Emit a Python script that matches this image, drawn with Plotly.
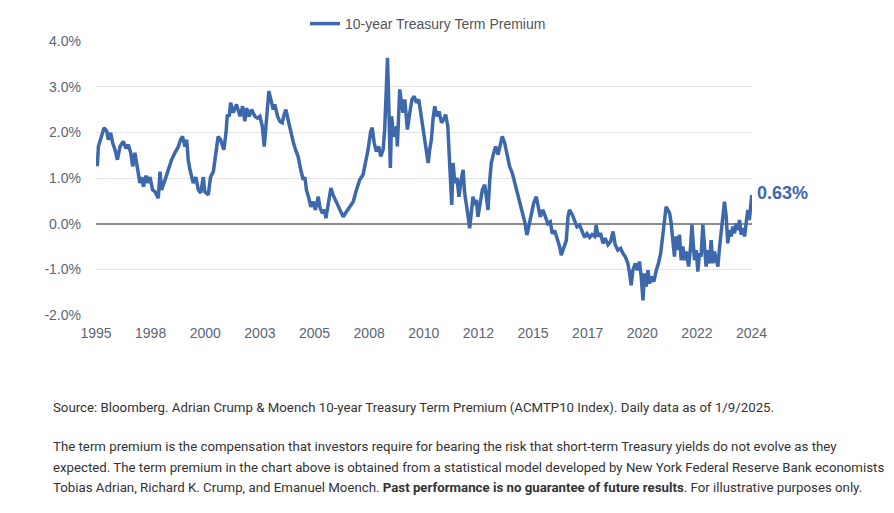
import numpy as np
import plotly.graph_objects as go

# decimal year / term premium (%)
year = [
    # 1995 - 2002
    1995.03, 1995.06, 1995.11, 1995.26, 1995.37, 1995.49, 1995.56, 1995.67, 1995.76, 1995.87,
    1995.98, 1996.10, 1996.25, 1996.37, 1996.48, 1996.59, 1996.68, 1996.78, 1996.86, 1997.01,
    1997.09, 1997.17, 1997.29, 1997.39, 1997.47, 1997.59, 1997.70, 1997.85, 1997.93, 1998.00,
    1998.16, 1998.31, 1998.46, 1998.61, 1998.77, 1998.87, 1998.96, 1999.07, 1999.15, 1999.22,
    1999.30, 1999.45, 1999.57, 1999.68, 1999.79, 1999.91, 1999.98, 2000.14, 2000.24, 2000.37,
    2000.49, 2000.59, 2000.70, 2000.79, 2000.85, 2000.95, 2001.01, 2001.10, 2001.16, 2001.28,
    2001.43, 2001.59, 2001.71, 2001.81, 2001.89, 2002.01, 2002.12, 2002.27,
    # 2002 - 2009
    2002.39, 2002.50, 2002.61, 2002.70, 2002.76, 2002.85, 2002.91, 2003.00, 2003.11, 2003.18,
    2003.31, 2003.41, 2003.52, 2003.61, 2003.69, 2003.79, 2003.92, 2004.02, 2004.13, 2004.25,
    2004.37, 2004.48, 2004.56, 2004.63, 2004.74, 2004.83, 2004.94, 2005.04, 2005.17, 2005.24,
    2005.35, 2005.47, 2005.52, 2005.62, 2005.75, 2005.85, 2006.00, 2006.16, 2006.31, 2006.46,
    2006.61, 2006.77, 2006.92, 2007.07, 2007.22, 2007.33, 2007.45, 2007.57, 2007.64, 2007.73,
    2007.83, 2007.94, 2008.03, 2008.14, 2008.21, 2008.29, 2008.34, 2008.38, 2008.43, 2008.47,
    2008.53, 2008.60, 2008.67, 2008.75, 2008.79, 2008.86, 2008.90, 2008.98, 2009.05, 2009.13,
    2009.25, 2009.36, 2009.46, 2009.56, 2009.66, 2009.77,
    # 2010 - 2017
    2010.00, 2010.09, 2010.20, 2010.27, 2010.35, 2010.42, 2010.50, 2010.61, 2010.70, 2010.81,
    2010.91, 2011.00, 2011.10, 2011.16, 2011.22, 2011.28, 2011.34, 2011.42, 2011.52, 2011.61,
    2011.71, 2011.80, 2011.87, 2011.95, 2012.02, 2012.10, 2012.18, 2012.25, 2012.33, 2012.41,
    2012.48, 2012.56, 2012.68, 2012.79, 2012.86, 2012.94, 2013.02, 2013.09, 2013.20, 2013.29,
    2013.40, 2013.50, 2013.59, 2013.70, 2013.81, 2013.93, 2014.05, 2014.16, 2014.27, 2014.39,
    2014.51, 2014.62, 2014.72, 2014.81, 2014.92, 2015.03, 2015.15, 2015.23, 2015.33, 2015.45,
    2015.58, 2015.68, 2015.79, 2015.88, 2015.99, 2016.09, 2016.22, 2016.29, 2016.40, 2016.52,
    2016.60, 2016.67, 2016.80, 2016.90, 2017.01, 2017.13, 2017.25, 2017.36, 2017.47, 2017.59,
    # 2017 - 2025
    2017.70, 2017.82, 2017.89, 2017.97, 2018.09, 2018.20, 2018.30, 2018.43, 2018.55, 2018.66,
    2018.76, 2018.88, 2019.01, 2019.11, 2019.22, 2019.34, 2019.42, 2019.49, 2019.57, 2019.68,
    2019.77, 2019.87, 2019.95, 2020.03, 2020.10, 2020.18, 2020.26, 2020.33, 2020.41, 2020.53,
    2020.64, 2020.74, 2020.84, 2020.94, 2021.02, 2021.09, 2021.17, 2021.25, 2021.32, 2021.40,
    2021.47, 2021.55, 2021.63, 2021.70, 2021.78, 2021.86, 2021.93, 2022.01, 2022.12, 2022.21,
    2022.27, 2022.33, 2022.39, 2022.47, 2022.54, 2022.62, 2022.69, 2022.77, 2022.85, 2022.92,
    2023.00, 2023.08, 2023.15, 2023.23, 2023.30, 2023.38, 2023.46, 2023.53, 2023.61, 2023.69,
    2023.76, 2023.84, 2023.91, 2023.99, 2024.07, 2024.14, 2024.22, 2024.29, 2024.37, 2024.45,
    2024.52, 2024.60, 2024.68, 2024.75, 2024.83, 2024.90, 2024.98, 2025.01,
]
premium = [
    1.40, 1.26, 1.69, 1.91, 2.10, 2.03, 1.84, 1.99, 1.77, 1.62,
    1.40, 1.69, 1.80, 1.65, 1.73, 1.55, 1.25, 1.55, 1.33, 0.89,
    1.02, 0.81, 1.05, 0.89, 1.02, 0.74, 0.70, 0.56, 1.14, 0.74,
    0.96, 1.18, 1.40, 1.55, 1.69, 1.84, 1.91, 1.69, 1.84, 1.40,
    1.18, 0.89, 1.02, 0.74, 0.67, 1.02, 0.70, 0.63, 1.02, 1.14,
    1.62, 1.91, 1.84, 1.69, 1.62, 1.99, 2.39, 2.35, 2.65, 2.43,
    2.61, 2.35, 2.57, 2.24, 2.53, 2.35, 2.50, 2.35,
    2.31, 2.35, 2.13, 1.69, 2.06, 2.57, 2.90, 2.72, 2.50, 2.61,
    2.35, 2.24, 2.21, 2.39, 2.50, 2.28, 1.99, 1.80, 1.62, 1.47,
    1.18, 0.96, 1.02, 0.74, 0.56, 0.37, 0.48, 0.30, 0.59, 0.37,
    0.23, 0.30, 0.12, 0.45, 0.78, 0.63, 0.48, 0.34, 0.15, 0.26,
    0.37, 0.48, 0.74, 0.96, 1.07, 1.33, 1.62, 2.02, 2.10, 1.77,
    1.58, 1.69, 1.47, 1.62, 2.06, 3.01, 3.63, 2.94, 1.99, 1.22,
    2.35, 1.99, 1.91, 2.13, 1.69, 2.50, 2.94, 2.65, 2.43, 2.72,
    2.06, 2.43, 2.72, 2.79, 2.65, 2.72,
    1.99, 1.77, 1.33, 1.62, 1.84, 2.28, 2.57, 2.35, 2.46, 2.21,
    2.28, 2.39, 2.13, 1.55, 0.96, 0.41, 1.33, 0.89, 1.00, 0.59,
    0.96, 1.18, 0.67, 0.45, 0.19, -0.10, 0.23, 0.59, 0.41, 0.52,
    0.15, 0.37, 0.74, 0.85, 0.59, 0.30, 0.96, 1.33, 1.55, 1.69,
    1.51, 1.69, 1.91, 1.77, 1.47, 1.25, 1.11, 0.89, 0.67, 0.45,
    0.23, 0.04, -0.25, -0.07, 0.15, 0.45, 0.59, 0.37, 0.15, 0.30,
    0.11, 0.00, 0.04, -0.22, -0.15, -0.30, -0.51, -0.69, -0.54, -0.37,
    0.15, 0.30, 0.19, 0.08, -0.07, -0.03, -0.15, -0.30, -0.22, -0.30,
    -0.24, -0.28, -0.03, -0.28, -0.21, -0.43, -0.32, -0.46, -0.39, -0.17,
    -0.46, -0.58, -0.54, -0.65, -0.72, -0.87, -1.09, -1.35, -1.02, -0.87,
    -1.02, -0.83, -1.16, -1.68, -1.09, -1.38, -1.02, -1.31, -1.16, -1.27,
    -1.02, -0.87, -0.65, -0.28, 0.08, 0.37, 0.30, 0.23, 0.01, -0.50,
    -0.72, -0.28, -0.58, -0.24, -0.80, -0.50, -0.80, -0.61, -0.94, -0.50,
    -0.02, -0.43, -0.80, -0.58, -1.05, -0.65, -0.72, -0.02, -0.50, -0.94,
    -0.58, -0.87, -0.36, -0.87, -0.61, -0.83, -0.94, -0.54, -0.14, 0.30,
    0.48, 0.16, -0.43, -0.14, -0.28, -0.06, -0.21, 0.01, -0.14, 0.08,
    -0.24, -0.10, -0.28, 0.01, 0.30, 0.08, 0.59, 0.63,
]

tick_labels = ["1995", "1998", "2000", "2003", "2005", "2008", "2010",
               "2012", "2015", "2017", "2020", "2022", "2024"]
y_ticks = [-2, -1, 0, 1, 2, 3, 4]
last_value = premium[-1]

footnotes = [
    "Source: Bloomberg. Adrian Crump & Moench 10-year Treasury Term Premium (ACMTP10 Index). Daily data as of 1/9/2025.",
    "The term premium is the compensation that investors require for bearing the risk that short-term Treasury yields do not evolve as they",
    "expected. The term premium in the chart above is obtained from a statistical model developed by New York Federal Reserve Bank economists",
    "Tobias Adrian, Richard K. Crump, and Emanuel Moench. <b>Past performance is no guarantee of future results</b>. For illustrative purposes only.",
]
footnote_y = [-0.339, -0.481, -0.556, -0.631]

blue = "#3d68ab"
grey_text = "#5b6574"

fig = go.Figure()

fig.add_trace(
    go.Scatter(
        x=year,
        y=premium,
        name="10-year Treasury Term Premium",
        mode="lines",
        line=dict(color=blue, width=3.5),
    )
)

# value label at the end of the line
fig.add_annotation(
    x=year[-1],
    y=last_value,
    text="<b>%.2f%%</b>" % last_value,
    showarrow=False,
    xanchor="left",
    yanchor="middle",
    xshift=3,
    yshift=2,
    font=dict(family="Liberation Sans, Arial", size=18, color=blue),
)

# footnote lines under the chart
for line, fy in zip(footnotes, footnote_y):
    fig.add_annotation(
        xref="paper",
        yref="paper",
        x=-0.069,
        y=fy,
        text=line,
        showarrow=False,
        xanchor="left",
        yanchor="middle",
        align="left",
        font=dict(family="Roboto", size=13.25, color="#333333"),
    )

# page body has an 8px margin, so the plot area is offset by 8px
fig.update_layout(
    width=894,
    height=513,
    margin=dict(l=88, r=150, t=33, b=206, autoexpand=False),
    paper_bgcolor="white",
    plot_bgcolor="white",
    font=dict(family="Liberation Sans, Arial", size=14, color=grey_text),
    showlegend=True,
    legend=dict(
        orientation="h",
        x=0.506,
        xanchor="center",
        y=1.062,
        yanchor="middle",
        itemwidth=30,
        font=dict(size=14, color="#555555"),
        bgcolor="rgba(0,0,0,0)",
    ),
    xaxis=dict(
        range=[1995, 2025.02],
        tickvals=list(np.linspace(1995, 2025, len(tick_labels))),
        ticktext=tick_labels,
        showgrid=False,
        zeroline=False,
        showline=False,
        ticks="",
        ticklabelstandoff=8,
        tickfont=dict(size=14, color=grey_text),
    ),
    yaxis=dict(
        range=[-2.0, 4.0],
        tickvals=y_ticks,
        ticktext=["%.1f%%" % v for v in y_ticks],
        showgrid=True,
        gridcolor="#e3e3e3",
        gridwidth=1,
        zeroline=True,
        zerolinecolor="#8c8c8c",
        zerolinewidth=2,
        ticks="",
        ticklabelstandoff=14,
        tickfont=dict(size=14, color=grey_text),
    ),
)

fig.write_html("out.html")
